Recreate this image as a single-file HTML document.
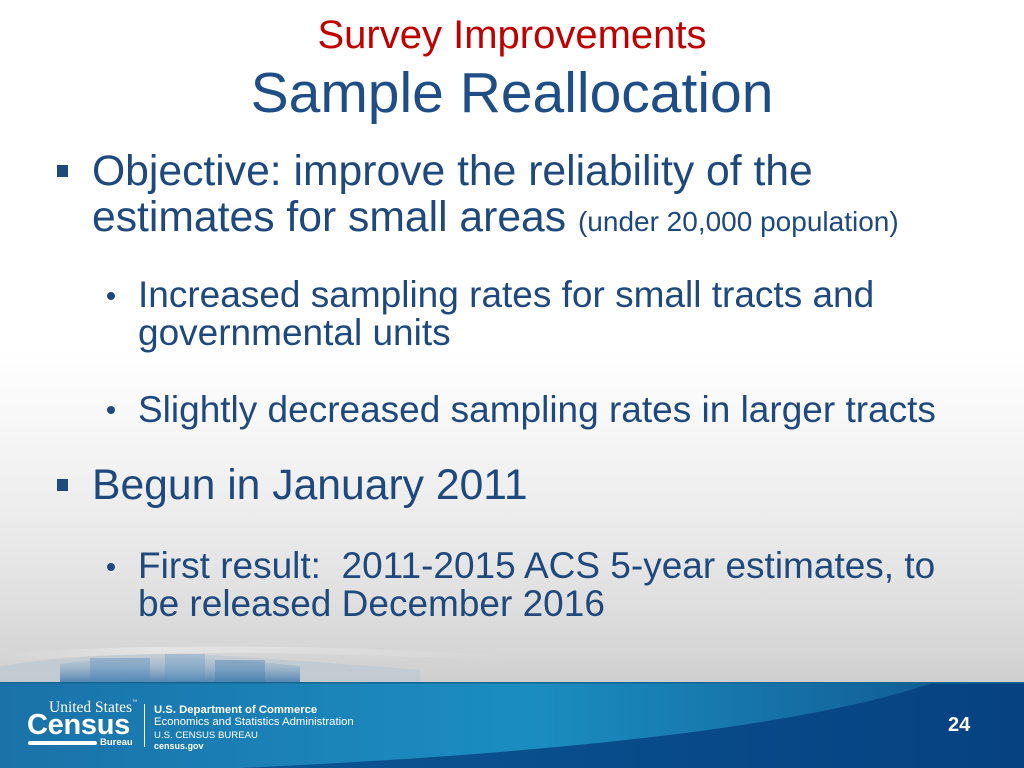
<!DOCTYPE html>
<html>
<head>
<meta charset="utf-8">
<style>
  html, body { margin:0; padding:0; }
  body {
    width:1024px; height:768px; position:relative; overflow:hidden;
    font-family:"Liberation Sans", Arial, sans-serif;
    background: linear-gradient(to bottom, #ffffff 0px, #ffffff 350px, #f3f3f3 460px, #e6e6e6 560px, #dadada 630px, #cfcfcf 682px, #cfcfcf 768px);
  }
  .t { position:absolute; white-space:nowrap; line-height:1; color:#1F497D; }
  .sq { position:absolute; left:57px; width:11px; height:12px; background:#1F497D; }
  .dot { position:absolute; left:107px; width:8px; height:8px; border-radius:50%; background:#1F497D; }
  .w { position:absolute; white-space:nowrap; line-height:1; color:#fff; }
</style>
</head>
<body>

<div class="t" style="left:0; width:1024px; text-align:center; top:15px; font-size:40px; color:#C00000;">Survey Improvements</div>
<div class="t" style="left:0; width:1024px; text-align:center; top:65px; font-size:57px; color:#1F4E87;">Sample Reallocation</div>

<div class="sq" style="top:165px;"></div>
<div class="t" style="left:92px; top:150px; font-size:42.67px;">Objective: improve the reliability of the</div>
<div class="t" style="left:92px; top:196px; font-size:42.67px;">estimates for small areas <span style="font-size:28px;">(under 20,000 population)</span></div>

<div class="dot" style="top:292px;"></div>
<div class="t" style="left:138px; top:276px; font-size:37px;">Increased sampling rates for small tracts and</div>
<div class="t" style="left:138px; top:314px; font-size:37px;">governmental units</div>

<div class="dot" style="top:406px;"></div>
<div class="t" style="left:138px; top:391px; font-size:37px;">Slightly decreased sampling rates in larger tracts</div>

<div class="sq" style="top:479px;"></div>
<div class="t" style="left:92px; top:464px; font-size:42.67px;">Begun in January 2011</div>

<div class="dot" style="top:563px;"></div>
<div class="t" style="left:138px; top:547px; font-size:37px;">First result:&nbsp; 2011-2015 ACS 5-year estimates, to</div>
<div class="t" style="left:138px; top:585px; font-size:37px;">be released December 2016</div>

<!-- decorative strip above band -->
<svg style="position:absolute; left:0; top:636px;" width="1024" height="46" viewBox="0 0 1024 46">
  <defs>
    <linearGradient id="dg" x1="0" y1="0" x2="0" y2="1">
      <stop offset="0" stop-color="#8fb3d0" stop-opacity="0.15"/>
      <stop offset="1" stop-color="#2f6fa8" stop-opacity="0.75"/>
    </linearGradient>
    <linearGradient id="dh" x1="0" y1="0" x2="1" y2="0">
      <stop offset="0" stop-color="#ffffff" stop-opacity="0"/>
      <stop offset="0.3" stop-color="#ffffff" stop-opacity="0.35"/>
      <stop offset="1" stop-color="#ffffff" stop-opacity="0"/>
    </linearGradient>
  </defs>
  <path d="M0 30 Q 120 12 260 22 T 420 34 L 420 46 L 0 46 Z" fill="#b9c6d2" opacity="0.6"/>
  <path d="M60 46 L60 28 Q 160 14 300 30 L 300 46 Z" fill="url(#dg)"/>
  <rect x="90" y="22" width="60" height="24" fill="#4a86ba" opacity="0.35"/>
  <rect x="165" y="18" width="40" height="28" fill="#5b93c2" opacity="0.3"/>
  <rect x="215" y="24" width="50" height="22" fill="#3a78b0" opacity="0.35"/>
  <path d="M0 18 Q 200 2 520 20 L 520 26 Q 200 8 0 26 Z" fill="url(#dh)"/>
</svg>

<!-- footer band -->
<svg style="position:absolute; left:0; top:682px;" width="1024" height="86" viewBox="0 0 1024 86">
  <defs>
    <linearGradient id="bg1" x1="0" y1="0" x2="1" y2="0">
      <stop offset="0" stop-color="#1a72a8"/>
      <stop offset="0.4" stop-color="#1b88bd"/>
      <stop offset="0.52" stop-color="#1a8dc0"/>
      <stop offset="0.7" stop-color="#1779ae"/>
      <stop offset="0.9" stop-color="#125f98"/>
      <stop offset="1" stop-color="#0e5590"/>
    </linearGradient>
    <linearGradient id="bg2" x1="0" y1="0" x2="1" y2="0">
      <stop offset="0" stop-color="#0b5593"/>
      <stop offset="1" stop-color="#064282"/>
    </linearGradient>
  </defs>
  <rect x="0" y="0" width="1024" height="86" fill="url(#bg1)"/>
  <path d="M240 86 C 460 76, 780 54, 935 0 L 1024 0 L 1024 86 Z" fill="url(#bg2)"/>
  <rect x="0" y="0" width="1024" height="1.5" fill="#15668f"/>
</svg>

<!-- logo -->
<div class="w" style="left:49px; top:700px; font-family:'Liberation Serif', serif; font-size:15.5px;">United States<span style="font-size:5px; vertical-align:top;">™</span></div>
<div class="w" style="left:27px; top:711px; font-size:29px; font-weight:bold; letter-spacing:-0.3px;">Census</div>
<div style="position:absolute; left:28px; top:741px; width:69px; height:4px; background:#fff; border-radius:2px;"></div>
<div class="w" style="left:100px; top:738px; font-size:9.5px; font-weight:bold;">Bureau</div>
<div style="position:absolute; left:144px; top:704px; width:1px; height:43px; background:#fff;"></div>

<div class="w" style="left:154px; top:705px; font-size:11.3px; font-weight:bold;">U.S. Department of Commerce</div>
<div class="w" style="left:154px; top:717px; font-size:11.3px;">Economics and Statistics Administration</div>
<div class="w" style="left:154px; top:731px; font-size:9.6px;">U.S. CENSUS BUREAU</div>
<div class="w" style="left:154px; top:742px; font-size:9px; font-weight:bold;">census.gov</div>

<div class="w" style="left:948px; top:715px; font-size:20px; font-weight:bold;">24</div>

</body>
</html>
